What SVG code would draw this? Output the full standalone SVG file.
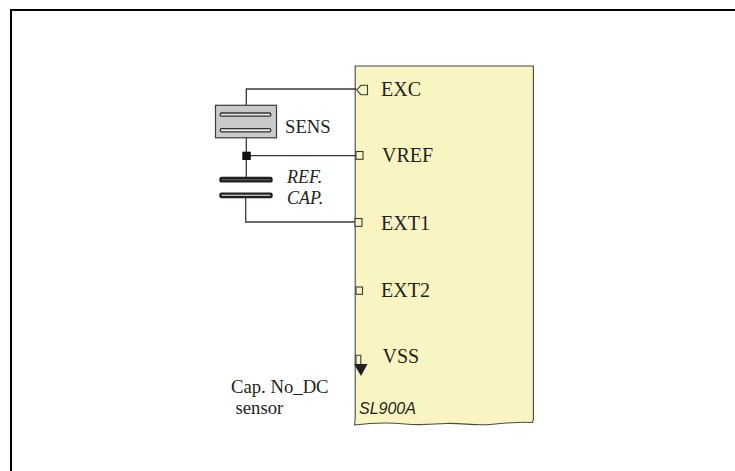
<svg xmlns="http://www.w3.org/2000/svg" width="735" height="471" viewBox="0 0 735 471">
<style>
.t{font-family:"Liberation Serif","Times New Roman",serif;fill:#231f20}
.p{font-size:20px}
.s{font-size:18.700px}
.i{font-size:18px;font-style:italic}
.w{fill:none;stroke:#3a3a3a;stroke-width:1.300}
.pin{fill:#f9f5c2;stroke:#3a3a3a;stroke-width:1.100}
</style>
<rect width="735" height="471" fill="#fff"/>
<path d="M11 471V10H735" fill="none" stroke="#000" stroke-width="2"/>
<g id="chip">
<path d="M355.200 66H533.400V419.500L532.500 422.500C520 421.500 505 423 490 424.500C475 426 460 422.500 445 423.500C430 424.500 420 425.500 405 424C390 422.500 370 423 354.500 425L355.200 419Z" fill="#f9f5c2" stroke="#4a4a4a" stroke-width="1.100"/>
<text x="359" y="414" style="font-family:'Liberation Sans',Arial,sans-serif;fill:#231f20;font-size:16px;font-style:italic">SL900A</text>
</g>
<g id="connectors">
<path class="w" d="M246.300 105V89H356.500"/>
<path class="w" d="M246.300 138V178M246.300 155.700H356"/>
<path class="w" d="M245.700 198V222H355"/>
</g>
<g id="sens">
<rect x="215.500" y="105.300" width="61" height="32.500" fill="#c9cacc" stroke="#3a3a3a" stroke-width="1.200"/>
<rect x="220.300" y="113" width="50.400" height="3.200" rx="1" fill="#e8e8e8" stroke="#333" stroke-width="1.300"/>
<rect x="220.300" y="128.600" width="50.400" height="3.200" rx="1" fill="#e8e8e8" stroke="#333" stroke-width="1.300"/>
<text class="t s" x="285" y="132.700">SENS</text>
</g>
<g id="junction"><rect x="242.300" y="151.700" width="8.500" height="8.300" fill="#111"/></g>
<g id="refcap">
<rect x="220.500" y="178" width="51" height="3.400" rx="1" fill="#666" stroke="#231f20" stroke-width="2.400"/>
<rect x="220.500" y="193.600" width="51" height="3.400" rx="1" fill="#f4f4f4" stroke="#231f20" stroke-width="2.400"/>
<text class="t i" x="287" y="182.700">REF.</text>
<text class="t i" x="287" y="204">CAP.</text>
</g>
<g id="exc">
<path class="pin" d="M356.800 90L361 85.300H367.500V94.700H361Z"/>
<text class="t p" x="381" y="95.700">EXC</text>
</g>
<g id="vref">
<rect class="pin" x="356" y="151.500" width="7" height="7.800"/>
<text class="t p" x="382" y="161.500">VREF</text>
</g>
<g id="ext1">
<rect class="pin" x="355" y="218.500" width="7" height="7.800" stroke-width="1.300"/>
<text class="t p" x="381" y="229.500">EXT1</text>
</g>
<g id="ext2">
<rect class="pin" x="356" y="287" width="6.500" height="7.300"/>
<text class="t p" x="381" y="296.700">EXT2</text>
</g>
<g id="vss">
<path d="M356 364V355.300H360.800V364" fill="none" stroke="#3a3a3a" stroke-width="1.100"/>
<path d="M354 364H367.500L361 376Z" fill="#231f20"/>
<text class="t p" x="382.500" y="362.700">VSS</text>
</g>
<g id="caption">
<text class="t" x="231" y="392.700" font-size="18.700">Cap. No_DC</text>
<text class="t" x="235.500" y="414" font-size="18.700">sensor</text>
</g>
</svg>
